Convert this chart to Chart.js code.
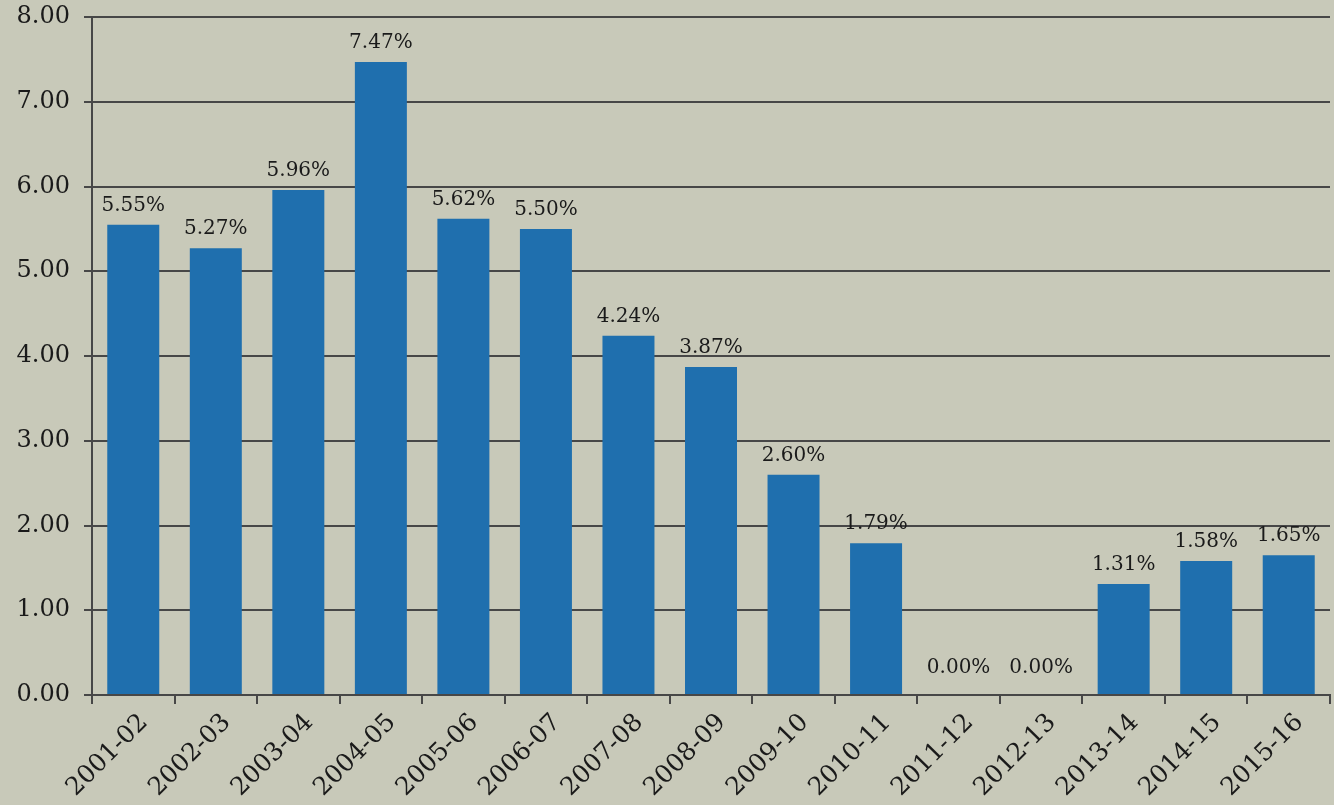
<!DOCTYPE html>
<html>
<head>
<meta charset="utf-8">
<script src="https://cdn.jsdelivr.net/npm/chart.js@4"></script>
<style>
  html, body { margin: 0; padding: 0; background: #c8c9b9; }
  canvas { display: block; }
</style>
</head>
<body>
<canvas id="c" width="1334" height="805"></canvas>
<script>
const categories = ["2001-02","2002-03","2003-04","2004-05","2005-06","2006-07","2007-08","2008-09","2009-10","2010-11","2011-12","2012-13","2013-14","2014-15","2015-16"];
const values = [5.55, 5.27, 5.96, 7.47, 5.62, 5.50, 4.24, 3.87, 2.60, 1.79, 0.00, 0.00, 1.31, 1.58, 1.65];
const yTicks = [0, 1, 2, 3, 4, 5, 6, 7, 8];

const BG = '#c8c9b9';
const BAR = '#1f6fae';
const INK = '#1a1a1a';
const GRID = '#474747';
const FONT = '"DejaVu Serif", Georgia, serif';

const bgPlugin = {
  id: 'bg',
  beforeDraw(chart) {
    const ctx = chart.ctx;
    ctx.save();
    ctx.fillStyle = BG;
    ctx.fillRect(0, 0, chart.width, chart.height);
    ctx.restore();
  }
};

const labelPlugin = {
  id: 'valueLabels',
  afterDatasetsDraw(chart) {
    const ctx = chart.ctx;
    const meta = chart.getDatasetMeta(0);
    ctx.save();
    ctx.font = '20px ' + FONT;
    ctx.fillStyle = INK;
    ctx.textAlign = 'center';
    ctx.textBaseline = 'alphabetic';
    meta.data.forEach((bar, i) => {
      const v = values[i];
      const off = v === 0 ? 22 : 14;
      ctx.fillText(v.toFixed(2) + '%', bar.x, bar.y - off);
    });
    ctx.restore();
  }
};

new Chart(document.getElementById('c'), {
  type: 'bar',
  data: {
    labels: categories,
    datasets: [{
      data: values,
      backgroundColor: BAR,
      borderWidth: 0,
      barPercentage: 0.63,
      categoryPercentage: 1.0
    }]
  },
  options: {
    responsive: false,
    animation: false,
    layout: { padding: { top: 17, right: 4, left: 0, bottom: 0 } },
    plugins: {
      legend: { display: false },
      tooltip: { enabled: false }
    },
    scales: {
      x: {
        grid: {
          display: true,
          drawOnChartArea: false,
          drawTicks: true,
          tickLength: 9,
          color: GRID,
          lineWidth: 2,
          offset: true
        },
        border: { display: true, color: GRID, width: 2 },
        ticks: {
          color: INK,
          font: { family: FONT, size: 25 },
          minRotation: 45,
          maxRotation: 45,
          autoSkip: false,
          padding: 4,
          labelOffset: 11
        },
        afterFit(scale) { scale.height = 110; scale.paddingLeft = 0; scale.paddingRight = 0; }
      },
      y: {
        min: 0,
        max: 8,
        afterBuildTicks(scale) { scale.ticks = yTicks.map(v => ({ value: v })); },
        grid: {
          color: GRID,
          lineWidth: 2,
          drawTicks: true,
          tickLength: 8
        },
        border: { display: true, color: GRID, width: 2 },
        ticks: {
          color: INK,
          font: { family: FONT, size: 24 },
          padding: 14,
          callback: v => Number(v).toFixed(2)
        },
        afterFit(scale) { scale.width = 92; scale.paddingTop = 0; scale.paddingBottom = 0; }
      }
    }
  },
  plugins: [bgPlugin, labelPlugin]
});
</script>
</body>
</html>
